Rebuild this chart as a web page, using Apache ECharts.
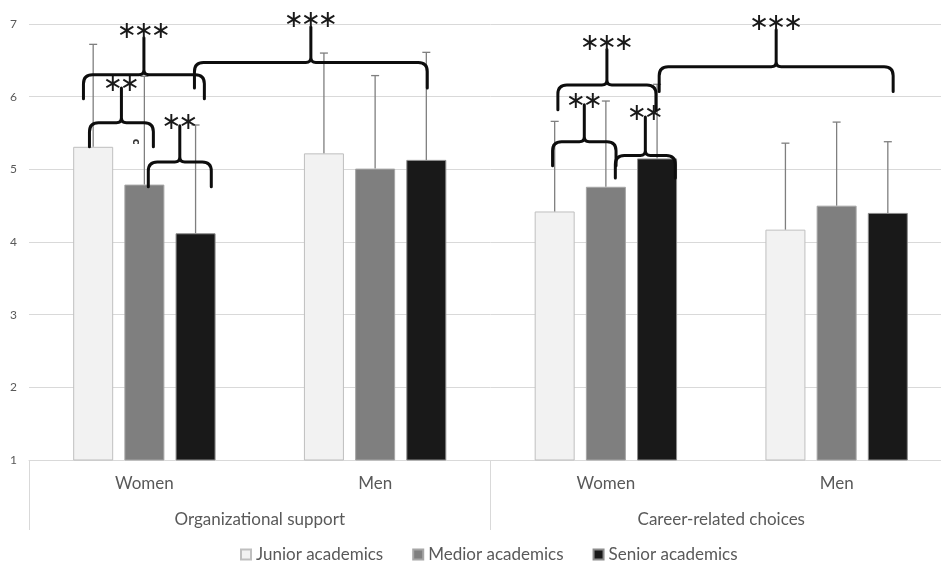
<!DOCTYPE html>
<html>
<head>
<meta charset="utf-8">
<script src="https://cdn.jsdelivr.net/npm/echarts@6/dist/echarts.min.js"></script>
<style>
  html, body { margin: 0; padding: 0; background: #ffffff; overflow: hidden; }
  /* the plot runs a little past the right edge of the window */
  #chart { width: 952px; height: 564px; }
</style>
</head>
<body>
<div id="chart"></div>
<script>
// Inner and outer category labels
const groups = ['Women', 'Men', 'Women', 'Men'];
const scales = ['Organizational support', 'Career-related choices'];
const seriesNames = ['Junior academics', 'Medior academics', 'Senior academics'];

// Mean scores per group (Org. support women/men, Career choices women/men)
const juniorMean = [5.31, 5.22, 4.42, 4.17];
const mediorMean = [4.79, 5.01, 4.76, 4.50];
const seniorMean = [4.12, 5.13, 5.15, 4.40];

// Standard deviations (upper error bars)
const juniorSD = [1.41, 1.38, 1.24, 1.19];
const mediorSD = [1.49, 1.28, 1.18, 1.15];
const seniorSD = [1.49, 1.48, 1.02, 0.98];

// Value axis
const yMin = 1, yMax = 7, yStep = 1;

// Significance brackets: x in category units (0 = first group centre),
// y in scale values: end of hooks, bracket line, tip of the spike.
const brackets = [
  { x0: -0.238, x1: 0.039, yEnd: 5.31, yLine: 5.64, yPeak: 6.12, label: '**' },
  { x0: -0.264, x1: 0.260, yEnd: 5.97, yLine: 6.30, yPeak: 6.81, label: '***' },
  { x0: 0.017, x1: 0.290, yEnd: 4.76, yLine: 5.10, yPeak: 5.60, label: '**' },
  { x0: 0.217, x1: 1.226, yEnd: 6.12, yLine: 6.47, yPeak: 6.96, label: '***' },
  { x0: 1.769, x1: 2.044, yEnd: 5.05, yLine: 5.38, yPeak: 5.89, label: '**' },
  { x0: 2.041, x1: 2.301, yEnd: 4.88, yLine: 5.19, yPeak: 5.72, label: '**' },
  { x0: 1.792, x1: 2.217, yEnd: 5.82, yLine: 6.16, yPeak: 6.65, label: '***' },
  { x0: 2.231, x1: 3.245, yEnd: 6.07, yLine: 6.41, yPeak: 6.92, label: '***' }
];
// small stray mark next to the first bracket
const strayMark = { x: -0.039, y: 5.38, text: 'c' };

const colors = ['#f2f2f2', '#7f7f7f', '#191919'];
const borders = ['#bfbfbf', '#a6a6a6', '#8c8c8c'];
const textColor = '#595959';
const gridColor = '#d9d9d9';
const font = 'Lato, "Liberation Sans", sans-serif';
const BAR_W = 40;
const BAR_GAP = 0.28;

const means = [juniorMean, mediorMean, seniorMean];
const sds = [juniorSD, mediorSD, seniorSD];

const errorData = [];
means.forEach((arr, s) => arr.forEach((m, g) => errorData.push([g, s, m, sds[s][g]])));

function renderError(params, api) {
  const g = api.value(0), s = api.value(1), m = api.value(2), sd = api.value(3);
  const off = (s - 1) * BAR_W * (1 + BAR_GAP);
  const base = api.coord([g, m]);
  const top = api.coord([g, m + sd]);
  const x = base[0] + off;
  const st = { stroke: '#7f7f7f', lineWidth: 1.3 };
  return {
    type: 'group',
    children: [
      { type: 'line', shape: { x1: x, y1: base[1], x2: x, y2: top[1] }, style: st },
      { type: 'line', shape: { x1: x - 4, y1: top[1], x2: x + 4, y2: top[1] }, style: st }
    ]
  };
}

function renderBracket(params, api) {
  const b = brackets[params.dataIndex];
  const band = api.size([1, 0])[0];
  const c0 = api.coord([0, b.yLine])[0];
  const px = v => c0 + v * band;
  const x0 = px(b.x0), x1 = px(b.x1), xm = (x0 + x1) / 2;
  const yE = api.coord([0, b.yEnd])[1];
  const yL = api.coord([0, b.yLine])[1];
  const yP = api.coord([0, b.yPeak])[1];
  const r = 9, r2 = 5;
  const d = [
    'M', x0, yE,
    'L', x0, yL + r,
    'Q', x0, yL, x0 + r, yL,
    'L', xm - r2, yL,
    'Q', xm, yL, xm, yL - r2,
    'L', xm, yP,
    'M', xm, yL - r2,
    'Q', xm, yL, xm + r2, yL,
    'L', x1 - r, yL,
    'Q', x1, yL, x1, yL + r,
    'L', x1, yE
  ].join(' ');
  const children = [{
    type: 'path',
    shape: { pathData: d },
    style: { stroke: '#0d0d0d', lineWidth: 3, fill: 'none', lineCap: 'round', lineJoin: 'round' }
  }];
  const n = b.label.length;
  const pitch = 17;
  const ty = yP - (n === 3 ? 6 : 3);
  for (let i = 0; i < n; i++) {
    children.push({
      type: 'text',
      x: xm + (i - (n - 1) / 2) * pitch,
      y: ty,
      style: {
        text: '\u2217', fill: '#1a1a1a',
        font: '24px "DejaVu Sans"',
        align: 'center', verticalAlign: 'middle',
        textAlign: 'center', textVerticalAlign: 'middle'
      }
    });
  }
  if (params.dataIndex === 0) {
    const p = api.coord([0, strayMark.y]);
    children.push({
      type: 'text',
      x: p[0] + strayMark.x * band,
      y: p[1],
      rotation: -Math.PI / 2,
      style: {
        text: strayMark.text, fill: '#333',
        font: 'bold 10px "DejaVu Sans"',
        align: 'center', verticalAlign: 'middle',
        textAlign: 'center', textVerticalAlign: 'middle'
      }
    });
  }
  return { type: 'group', children };
}

const chart = echarts.init(document.getElementById('chart'), null, { renderer: 'canvas' });

const barSeries = seriesNames.map((name, s) => ({
  name,
  type: 'bar',
  xAxisIndex: 0,
  yAxisIndex: 0,
  barWidth: BAR_W,
  barGap: (BAR_GAP * 100) + '%',
  data: means[s],
  itemStyle: { color: colors[s], borderColor: borders[s], borderWidth: 1 },
  z: 2
}));

chart.setOption({
  animation: false,
  backgroundColor: '#ffffff',
  grid: { left: 29, top: 24, right: 0, bottom: 104, containLabel: false },
  legend: {
    data: seriesNames,
    left: 235,
    top: 541,
    icon: 'rect',
    itemWidth: 10,
    itemHeight: 10,
    itemGap: 29,
    textStyle: { fontSize: 17, color: textColor, fontFamily: font }
  },
  xAxis: [
    {
      type: 'category',
      data: groups,
      position: 'bottom',
      axisLine: { lineStyle: { color: gridColor, width: 1 } },
      axisTick: { show: false },
      axisLabel: { fontSize: 17, color: textColor, fontFamily: font, margin: 15 }
    },
    {
      type: 'category',
      data: scales,
      position: 'bottom',
      offset: 0,
      axisLine: { show: false },
      axisTick: { show: true, length: 70, lineStyle: { color: gridColor, width: 1 } },
      axisLabel: { fontSize: 17, color: textColor, fontFamily: font, margin: 51 }
    }
  ],
  yAxis: {
    type: 'value',
    min: yMin,
    max: yMax,
    interval: yStep,
    axisLine: { show: false },
    axisTick: { show: false },
    splitLine: { lineStyle: { color: gridColor, width: 1 } },
    axisLabel: { fontSize: 12, color: textColor, fontFamily: font, margin: 12 }
  },
  series: [
    ...barSeries,
    {
      type: 'custom',
      name: 'error',
      xAxisIndex: 0,
      renderItem: renderError,
      encode: { x: 0, y: 2 },
      data: errorData,
      z: 3,
      silent: true
    },
    {
      type: 'custom',
      name: 'brackets',
      xAxisIndex: 0,
      renderItem: renderBracket,
      encode: { x: 0, y: 1 },
      data: brackets.map(b => [0, b.yLine]),
      clip: false,
      z: 4,
      silent: true
    }
  ]
});
</script>
</body>
</html>
